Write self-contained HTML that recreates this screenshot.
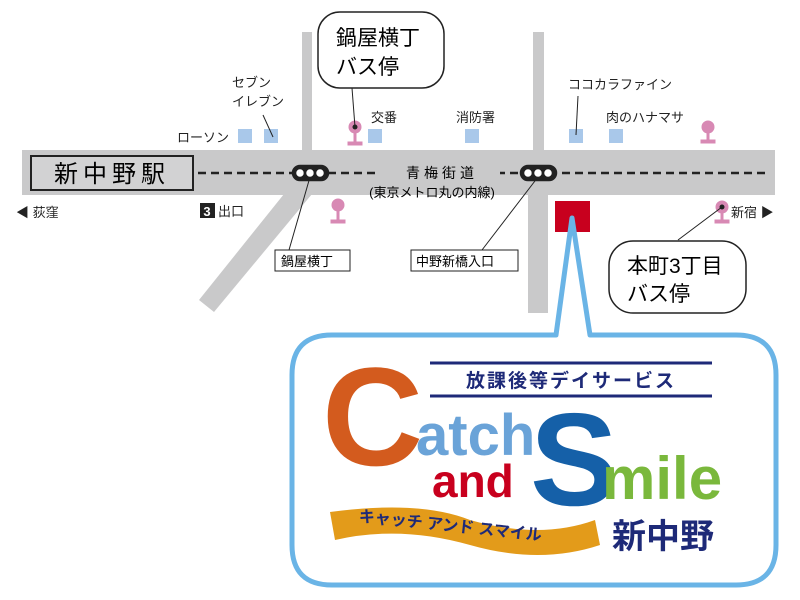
<!DOCTYPE html>
<html><head><meta charset="utf-8"><style>
body{margin:0;background:#fff}
svg{display:block}
text{font-family:"Liberation Sans","Noto Sans CJK JP",sans-serif}
</style></head><body>
<svg width="800" height="600" viewBox="0 0 800 600" xmlns="http://www.w3.org/2000/svg">
<g fill="#c9c9ca">
<rect x="302" y="32" width="10" height="120"/>
<rect x="533" y="32" width="11" height="120"/>
<rect x="528" y="194" width="20" height="119"/>
<rect x="22" y="150" width="753" height="45"/>
<polygon points="284,194 312,194 214,312 199,300"/>
</g>
<rect x="31" y="156" width="162" height="34" fill="#d2d2d3" stroke="#222" stroke-width="2"/>
<text x="112" y="182" font-size="24" text-anchor="middle" letter-spacing="5">新中野駅</text>
<line x1="198" y1="173" x2="770" y2="173" stroke="#222" stroke-width="2.5" stroke-dasharray="8,5"/>
<rect x="380" y="163" width="120" height="18" fill="#c9c9ca"/>
<text x="442" y="178" font-size="14" text-anchor="middle" letter-spacing="4">青梅街道</text>
<text x="432" y="197" font-size="13" text-anchor="middle">(東京メトロ丸の内線)</text>
<!-- traffic lights -->
<g stroke="#222" stroke-width="2.5" fill="#fff">
<rect x="293" y="166" width="35" height="14" rx="7" fill="#222"/>
<circle cx="300" cy="173" r="5"/><circle cx="310" cy="173" r="5"/><circle cx="320" cy="173" r="5"/>
<rect x="521" y="166" width="35" height="14" rx="7" fill="#222"/>
<circle cx="528" cy="173" r="5"/><circle cx="538" cy="173" r="5"/><circle cx="548" cy="173" r="5"/>
</g>
<!-- store squares -->
<g fill="#a9c8ea">
<rect x="238" y="129" width="14" height="14"/><rect x="264" y="129" width="14" height="14"/>
<rect x="368" y="129" width="14" height="14"/><rect x="465" y="129" width="14" height="14"/>
<rect x="569" y="129" width="14" height="14"/><rect x="609" y="129" width="14" height="14"/>
</g>
<g font-size="13" fill="#222">
<text x="232" y="87">セブン</text><text x="232" y="106">イレブン</text>
<text x="177" y="142">ローソン</text>
<text x="371" y="122">交番</text>
<text x="456" y="122">消防署</text>
<text x="568" y="89">ココカラファイン</text>
<text x="606" y="122">肉のハナマサ</text>
<text x="16" y="217">◀ 荻窪</text>
<text x="731" y="217">新宿 ▶</text>
<text x="218" y="216">出口</text>
</g>
<rect x="200" y="203" width="15" height="15" fill="#222"/>
<text x="207" y="216" font-size="13" fill="#fff" text-anchor="middle" font-weight="bold">3</text>
<line x1="263" y1="115" x2="273" y2="137" stroke="#222"/>
<line x1="578" y1="96" x2="576" y2="135" stroke="#222"/>
<!-- bus stops -->
<g fill="#d889b4" stroke="#d889b4">
<circle cx="355" cy="127" r="6"/><rect x="354" y="127" width="2" height="17"/><rect x="348" y="142" width="14" height="3"/>
<circle cx="338" cy="205" r="6"/><rect x="337" y="205" width="2" height="17"/><rect x="331" y="220" width="14" height="3"/>
<circle cx="708" cy="127" r="6"/><rect x="707" y="127" width="2" height="15"/><rect x="701" y="140" width="14" height="3"/>
<circle cx="722" cy="207" r="6"/><rect x="721" y="207" width="2" height="15"/><rect x="715" y="220" width="14" height="3"/>
</g>
<circle cx="355" cy="127" r="2.5" fill="#222"/><circle cx="722" cy="207" r="2.5" fill="#222"/>
<line x1="352" y1="88" x2="355" y2="127" stroke="#222"/>
<line x1="722" y1="207" x2="678" y2="240" stroke="#222"/>
<line x1="310" y1="177" x2="289" y2="250" stroke="#222"/>
<line x1="538" y1="177" x2="482" y2="250" stroke="#222"/>
<!-- bubbles -->
<rect x="318" y="12" width="126" height="76" rx="22" fill="#fff" stroke="#222" stroke-width="1.5"/>
<text x="336" y="45" font-size="21">鍋屋横丁</text><text x="336" y="74" font-size="21">バス停</text>
<rect x="609" y="241" width="137" height="72" rx="24" fill="#fff" stroke="#222" stroke-width="1.5"/>
<text x="627" y="273" font-size="21">本町3丁目</text><text x="627" y="301" font-size="21">バス停</text>
<rect x="275" y="250" width="75" height="21" fill="#fff" stroke="#222"/>
<text x="281" y="266" font-size="13">鍋屋横丁</text>
<rect x="411" y="250" width="107" height="21" fill="#fff" stroke="#222"/>
<text x="416" y="266" font-size="13">中野新橋入口</text>
<!-- red building -->
<rect x="555" y="201" width="35" height="31" fill="#c8001e"/>
<!-- callout -->
<path d="M556,335 L572,218 L590,335 L736,335 Q776,335 776,375 L776,545 Q776,585 736,585 L332,585 Q292,585 292,545 L292,375 Q292,335 332,335 Z" fill="#fff" stroke="#6ab4e6" stroke-width="5" stroke-linejoin="round"/>
<line x1="430" y1="363" x2="712" y2="363" stroke="#1e2a78" stroke-width="3"/>
<line x1="430" y1="396" x2="712" y2="396" stroke="#1e2a78" stroke-width="3"/>
<text x="571" y="387" font-size="19" font-weight="bold" fill="#1e2a78" text-anchor="middle" letter-spacing="2">放課後等デイサービス</text>
<text x="322" y="465" font-size="140" font-weight="bold" fill="#d35b1e">C</text>
<text x="416" y="455" font-size="58" font-weight="bold" fill="#6aa3d8">atch</text>
<text x="432" y="497" font-size="46" font-weight="bold" fill="#c8001e">and</text>
<text x="530" y="505" font-size="132" font-weight="bold" fill="#1560a8">S</text>
<text x="602" y="499" font-size="60" font-weight="bold" fill="#7ab83c">mile</text>
<path d="M330,512 Q420,500 470,520 Q540,540 595,520 L600,545 Q540,565 470,545 Q400,525 335,540 Z" fill="#e39b1a"/>
<text x="358" y="532" font-size="16" font-weight="bold" fill="#1e2a78" transform="rotate(6 460 530)">キャッチ アンド スマイル</text>
<text x="612" y="548" font-size="34" font-weight="bold" fill="#1e2a78">新中野</text>
</svg>
</body></html>
